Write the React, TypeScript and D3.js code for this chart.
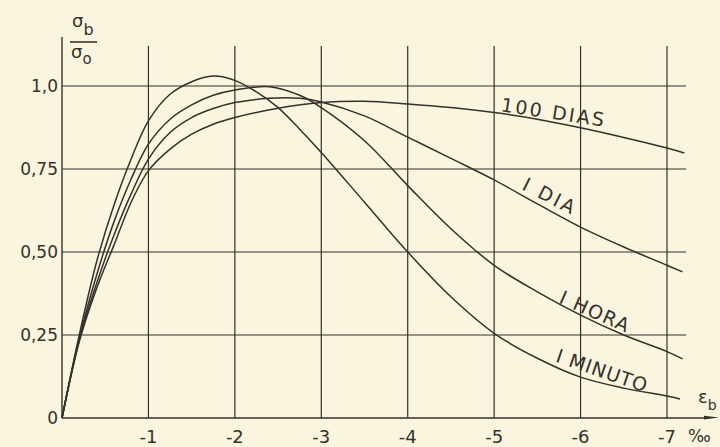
import { useEffect, useRef } from "react";
import * as d3 from "d3";

type Pt = [number, number];

// strain (per mille, compression negative) vs sigma_b / sigma_0
const curveMinuto: Pt[] = [
  [0, 0], [-0.2, 0.25], [-0.4, 0.47], [-0.6, 0.64], [-0.8, 0.78], [-1, 0.895],
  [-1.25, 0.975], [-1.5, 1.013], [-1.75, 1.03], [-2, 1.017], [-2.25, 0.982],
  [-2.5, 0.935], [-2.75, 0.87], [-3, 0.8], [-3.5, 0.65], [-4, 0.5], [-4.5, 0.365],
  [-5, 0.255], [-5.5, 0.18], [-6, 0.123], [-6.5, 0.09], [-7, 0.066], [-7.15, 0.057],
];
const curveHora: Pt[] = [
  [0, 0], [-0.2, 0.24], [-0.4, 0.43], [-0.6, 0.59], [-0.8, 0.72], [-1, 0.825],
  [-1.25, 0.9], [-1.5, 0.943], [-1.75, 0.972], [-2, 0.988], [-2.4, 0.998],
  [-2.75, 0.972], [-3, 0.935], [-3.5, 0.835], [-4, 0.7], [-4.5, 0.57], [-5, 0.46],
  [-5.5, 0.38], [-6, 0.31], [-6.5, 0.25], [-7, 0.2], [-7.18, 0.178],
];
const curveDia: Pt[] = [
  [0, 0], [-0.2, 0.235], [-0.4, 0.405], [-0.6, 0.55], [-0.8, 0.675], [-1, 0.78],
  [-1.25, 0.86], [-1.5, 0.905], [-1.75, 0.932], [-2, 0.95], [-2.4, 0.963],
  [-2.75, 0.963], [-3, 0.952], [-3.5, 0.91], [-4, 0.846], [-4.5, 0.782], [-5, 0.717],
  [-5.5, 0.645], [-6, 0.575], [-6.5, 0.515], [-7, 0.46], [-7.18, 0.44],
];
const curve100Dias: Pt[] = [
  [0, 0], [-0.2, 0.23], [-0.4, 0.39], [-0.6, 0.52], [-0.8, 0.65], [-1, 0.745],
  [-1.25, 0.81], [-1.5, 0.855], [-1.75, 0.885], [-2, 0.905], [-2.5, 0.933],
  [-3, 0.95], [-3.5, 0.954], [-4, 0.946], [-4.5, 0.935], [-5, 0.92], [-5.5, 0.9],
  [-6, 0.874], [-6.5, 0.845], [-7, 0.813], [-7.2, 0.798],
];

const seriesNames = ["I MINUTO", "I HORA", "I DIA", "100 DIAS"];
const seriesData = [curveMinuto, curveHora, curveDia, curve100Dias];
// where each label starts (strain, ratio), its slope and its length
const labelAt: Pt[] = [[-5.7, 0.17], [-5.74, 0.348], [-5.31, 0.69], [-5.07, 0.924]];
const labelAngle = [19, 24, 27, 8.5];
const labelLen = [95, 74, 56, 104];

const strainTicks = [-1, -2, -3, -4, -5, -6, -7];
const ratioTicks = [0, 0.25, 0.5, 0.75, 1.0];
const ratioLabels = ["0", "0,25", "0,50", "0,75", "1,0"];

const W = 720;
const H = 447;
const ink = "#35312b";
const font = "'DejaVu Sans', sans-serif";

export default function App() {
  const svgRef = useRef<SVGSVGElement | null>(null);

  useEffect(() => {
    if (!svgRef.current) return;
    const svg = d3.select(svgRef.current);
    svg.selectAll("*").remove();

    const x = d3.scaleLinear().domain([0, -7]).range([62, 667]);
    const y = d3.scaleLinear().domain([0, 1]).range([418, 86]);

    svg.append("rect").attr("width", W).attr("height", H).attr("fill", "#fbf4df");

    const grid = svg.append("g").attr("stroke", ink).attr("stroke-width", 1.2);
    // vertical grid
    grid.selectAll("line.v")
      .data(strainTicks)
      .enter()
      .append("line")
      .attr("x1", d => x(d)).attr("x2", d => x(d))
      .attr("y1", 46).attr("y2", y(0));
    // horizontal grid
    grid.selectAll("line.h")
      .data(ratioTicks.filter(d => d > 0))
      .enter()
      .append("line")
      .attr("x1", x(0)).attr("x2", 686)
      .attr("y1", d => y(d)).attr("y2", d => y(d));
    // axes
    grid.append("line").attr("x1", x(0)).attr("x2", x(0)).attr("y1", 37).attr("y2", y(0)).attr("stroke-width", 1.4);
    grid.append("line").attr("x1", x(0)).attr("x2", 708).attr("y1", y(0)).attr("y2", y(0)).attr("stroke-width", 1.4);
    svg.append("path")
      .attr("d", `M704,${y(0) - 2.2}L719,${y(0) - 0.5}L704,${y(0) + 1.6}Z`)
      .attr("fill", ink);

    // tick labels
    svg.append("g")
      .selectAll("text")
      .data(strainTicks)
      .enter()
      .append("text")
      .attr("x", d => x(d))
      .attr("y", 443)
      .attr("text-anchor", "middle")
      .attr("font-family", font)
      .attr("font-size", 18)
      .attr("fill", ink)
      .text(d => `-${Math.abs(d)}`);

    svg.append("g")
      .selectAll("text")
      .data(ratioTicks)
      .enter()
      .append("text")
      .attr("x", 58)
      .attr("y", d => y(d) + 6)
      .attr("text-anchor", "end")
      .attr("font-family", font)
      .attr("font-size", 17)
      .attr("fill", ink)
      .text((_d, i) => ratioLabels[i]);

    // curves
    const line = d3.line<Pt>()
      .x(d => x(d[0]))
      .y(d => y(d[1]))
      .curve(d3.curveCatmullRom.alpha(0.5));

    svg.append("g")
      .selectAll("path")
      .data(seriesData)
      .enter()
      .append("path")
      .attr("d", d => line(d))
      .attr("fill", "none")
      .attr("stroke", ink)
      .attr("stroke-width", 1.5);

    // curve labels
    svg.append("g")
      .selectAll("text")
      .data(seriesNames)
      .enter()
      .append("text")
      .attr("transform", (_d, i) => `translate(${x(labelAt[i][0])},${y(labelAt[i][1])}) rotate(${labelAngle[i]})`)
      .attr("font-family", font)
      .attr("font-size", 19)
      .attr("fill", ink)
      .attr("textLength", (_d, i) => labelLen[i])
      .attr("lengthAdjust", "spacing")
      .text(d => d);

    // axis titles
    const yt = svg.append("g").attr("font-family", font).attr("fill", ink);
    yt.append("text").attr("x", 72).attr("y", 27).attr("font-size", 18).text("σ")
      .append("tspan").attr("dy", 8).attr("font-size", 16).text("b");
    yt.append("line").attr("x1", 70).attr("x2", 97).attr("y1", 42).attr("y2", 42)
      .attr("stroke", ink).attr("stroke-width", 1.6);
    yt.append("text").attr("x", 71).attr("y", 58).attr("font-size", 18).text("σ")
      .append("tspan").attr("dy", 6).attr("font-size", 15).text("o");

    const xt = svg.append("g").attr("font-family", font).attr("fill", ink);
    xt.append("text").attr("x", 698).attr("y", 403).attr("font-size", 18).text("ε")
      .append("tspan").attr("dy", 7).attr("font-size", 14).text("b");
    xt.append("text").attr("x", 688).attr("y", 442).attr("font-size", 17).text("‰");
  }, []);

  return (
    <svg
      ref={svgRef}
      width={W}
      height={H}
      style={{ position: "absolute", left: 0, top: 0, display: "block" }}
    />
  );
}
